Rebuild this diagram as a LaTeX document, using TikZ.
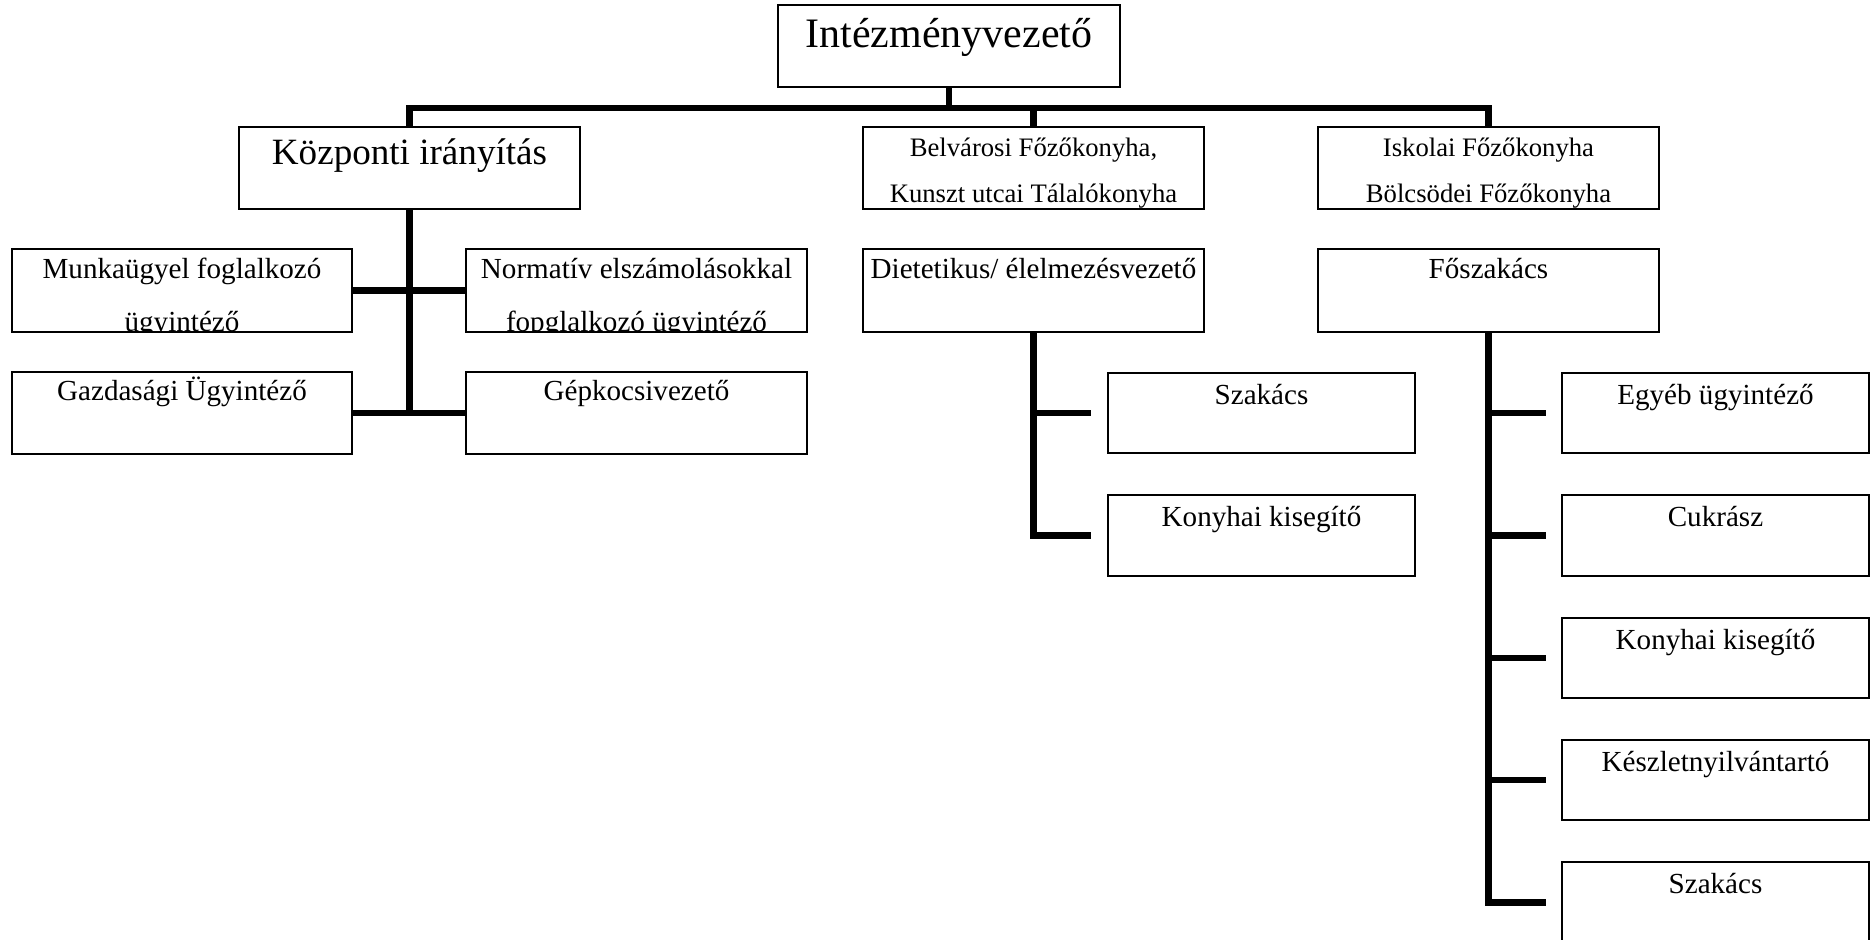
\documentclass[tikz,border=0pt]{standalone}
\usepackage{fontspec}
\setmainfont{Liberation Serif}
\usetikzlibrary{calc,fit}
\begin{document}
\begin{tikzpicture}[x=0.4124pt,y=-0.4124pt,
  box/.style={draw=black,line width=0.65pt,inner sep=0pt,outer sep=0pt},
  lab/.style={anchor=base,inner sep=0pt,outer sep=0pt,font=\fontsize{12pt}{14pt}\selectfont},
  labs/.style={lab,font=\fontsize{11pt}{13pt}\selectfont},
  conn/.style={line width=2.7pt,line join=miter}]
\useasboundingbox (0,0) rectangle (1872,939);

% boxes
\node[box, fit={(778,5) (1120,87)}] (top) {};
\node[box, fit={(239,127) (580,209)}] (kozp) {};
\node[box, fit={(863,127) (1204,209)}] (belv) {};
\node[box, fit={(1318,127) (1659,209)}] (isk) {};
\node[box, fit={(12,249) (352,332)}] (munka) {};
\node[box, fit={(466,249) (807,332)}] (norm) {};
\node[box, fit={(863,249) (1204,332)}] (diet) {};
\node[box, fit={(1318,249) (1659,332)}] (fosz) {};
\node[box, fit={(12,372) (352,454)}] (gazd) {};
\node[box, fit={(466,372) (807,454)}] (gepk) {};
\node[box, fit={(1108,373) (1415,453)}] (szak1) {};
\node[box, fit={(1108,495) (1415,576)}] (kony1) {};
\node[box, fit={(1562,373) (1869,453)}] (egyeb) {};
\node[box, fit={(1562,495) (1869,576)}] (cukr) {};
\node[box, fit={(1562,618) (1869,698)}] (kony2) {};
\node[box, fit={(1562,740) (1869,820)}] (keszl) {};
\node[box, fit={(1562,862) (1869,943)}] (szak2) {};

% texts
\node[lab, font=\fontsize{17.3pt}{20pt}\selectfont] (t-top) at ($(top.north)+(0,42)$) {Intézményvezető};
\node[lab, font=\fontsize{15.3pt}{18pt}\selectfont] (t-kozp) at ($(kozp.north)+(0,37)$) {Központi irányítás};
\node[labs] (t-belv1) at ($(belv.north)+(0,29)$) {Belvárosi Főzőkonyha,};
\node[labs] (t-belv2) at ($(belv.north)+(0,75)$) {Kunszt utcai Tálalókonyha};
\node[labs] (t-isk1) at ($(isk.north)+(0,29)$) {Iskolai Főzőkonyha};
\node[labs] (t-isk2) at ($(isk.north)+(0,75)$) {Bölcsödei Főzőkonyha};
\node[lab] (t-munka1) at ($(munka.north)+(0,29)$) {Munkaügyel foglalkozó};
\begin{scope}
  \clip (munka.north west) rectangle ($(munka.south east)+(0,-1.5)$);
  \node[lab] (t-munka2) at ($(munka.north)+(0,82)$) {ügyintéző};
\end{scope}
\node[lab] (t-norm1) at ($(norm.north)+(0,29)$) {Normatív elszámolásokkal};
\begin{scope}
  \clip (norm.north west) rectangle ($(norm.south east)+(0,-1.5)$);
  \node[lab] (t-norm2) at ($(norm.north)+(0,82)$) {fopglalkozó ügyintéző};
\end{scope}
\node[lab] (t-diet) at ($(diet.north)+(0,29)$) {Dietetikus/ élelmezésvezető};
\node[lab] (t-fosz) at ($(fosz.north)+(0,29)$) {Főszakács};
\node[lab] (t-gazd) at ($(gazd.north)+(0,28)$) {Gazdasági Ügyintéző};
\node[lab] (t-gepk) at ($(gepk.north)+(0,28)$) {Gépkocsivezető};
\node[lab] (t-szak1) at ($(szak1.north)+(0,31)$) {Szakács};
\node[lab] (t-kony1) at ($(kony1.north)+(0,31)$) {Konyhai kisegítő};
\node[lab] (t-egyeb) at ($(egyeb.north)+(0,31)$) {Egyéb ügyintéző};
\node[lab] (t-cukr) at ($(cukr.north)+(0,31)$) {Cukrász};
\node[lab] (t-kony2) at ($(kony2.north)+(0,31)$) {Konyhai kisegítő};
\node[lab] (t-keszl) at ($(keszl.north)+(0,31)$) {Készletnyilvántartó};
\node[lab] (t-szak2) at ($(szak2.north)+(0,31)$) {Szakács};

% connectors
\coordinate (bus) at (949,108);
\draw[conn] (top.south) -- (bus);
\draw[conn] (kozp.north) |- (bus) -| (isk.north);
\draw[conn] (belv.north) -- (belv.north |- bus);

\draw[conn] (kozp.south) -- (kozp.south |- gazd.east);
\draw[conn] (munka.east) -- (norm.west);
\draw[conn] (gazd.east) -- (gepk.west);

\coordinate (d1) at ($(szak1.west)+(-17,0)$);
\coordinate (d2) at ($(kony1.west)+(-17,0)$);
\draw[conn] (diet.south) |- (d2);
\draw[conn] (diet.south |- d1) -- (d1);

\coordinate (f1) at ($(egyeb.west)+(-16,0)$);
\coordinate (f2) at ($(cukr.west)+(-16,0)$);
\coordinate (f3) at ($(kony2.west)+(-16,0)$);
\coordinate (f4) at ($(keszl.west)+(-16,0)$);
\coordinate (f5) at ($(szak2.west)+(-16,0)$);
\draw[conn] (fosz.south) |- (f5);
\draw[conn] (fosz.south |- f1) -- (f1);
\draw[conn] (fosz.south |- f2) -- (f2);
\draw[conn] (fosz.south |- f3) -- (f3);
\draw[conn] (fosz.south |- f4) -- (f4);
\end{tikzpicture}
\end{document}
